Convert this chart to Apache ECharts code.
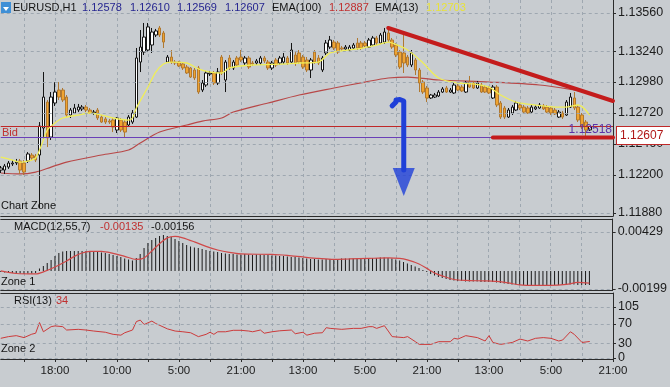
<!DOCTYPE html>
<html><head><meta charset="utf-8">
<script src="https://cdn.jsdelivr.net/npm/echarts@6/dist/echarts.min.js"></script>
<style>html,body{margin:0;padding:0;background:#c8ccd0;overflow:hidden}#c{width:670px;height:387px}</style>
</head><body><div id="c"></div><script>
// ---------- DATA ----------
const barCount = 159; // category slots (bars 0..152 carry data)
const tickLabels = ['18:00','10:00','5:00','21:00','13:00','5:00','21:00','13:00','5:00','21:00'];
const tickStart = 14, tickStep = 16;

const opens = [1.12241,1.12241,1.12266,1.12292,1.12300,1.12317,1.12300,1.12317,1.12367,1.12359,
1.12367,1.12594,1.12812,1.12518,1.12804,1.12913,1.12913,1.12854,1.12703,1.12720,
1.12745,1.12754,1.12770,1.12745,1.12720,1.12745,1.12686,1.12670,1.12653,1.12661,
1.12577,1.12661,1.12644,1.12619,1.12644,1.12686,1.13148,1.13232,1.13249,1.13291,
1.13375,1.13434,1.13392,1.13148,1.13190,1.13148,1.13148,1.13132,1.13106,1.13098,
1.13081,1.13098,1.12913,1.12955,1.13048,1.13056,1.12972,1.13190,1.12997,1.13182,
1.13098,1.13182,1.13190,1.13140,1.13182,1.13140,1.13140,1.13140,1.13182,1.13148,
1.13098,1.13165,1.13140,1.13148,1.13182,1.13148,1.13207,1.13224,1.13190,1.13165,
1.13081,1.13232,1.13182,1.13081,1.13224,1.13274,1.13316,1.13308,1.13266,1.13258,
1.13249,1.13266,1.13308,1.13308,1.13308,1.13274,1.13291,1.13350,1.13308,1.13316,
1.13392,1.13333,1.13291,1.13232,1.13224,1.13190,1.13123,1.13165,1.13081,1.12980,
1.12930,1.12846,1.12854,1.12863,1.12896,1.12930,1.12896,1.12888,1.12947,1.12938,
1.12896,1.12980,1.12972,1.12930,1.12955,1.12938,1.12930,1.12846,1.12938,1.12804,
1.12762,1.12686,1.12720,1.12745,1.12787,1.12770,1.12762,1.12728,1.12754,1.12762,
1.12779,1.12770,1.12762,1.12745,1.12686,1.12720,1.12703,1.12770,1.12846,1.12770,
1.12703,1.12644,1.12578];
const closes = [1.12258,1.12275,1.12300,1.12300,1.12308,1.12241,1.12224,1.12376,1.12342,1.12325,
1.12611,1.12854,1.12510,1.12854,1.12896,1.12854,1.12829,1.12703,1.12745,1.12762,
1.12770,1.12770,1.12745,1.12720,1.12728,1.12678,1.12644,1.12644,1.12644,1.12602,
1.12678,1.12577,1.12560,1.12686,1.12720,1.13182,1.13274,1.13358,1.13443,1.13400,
1.13409,1.13375,1.13316,1.13190,1.13148,1.13140,1.13115,1.13098,1.13056,1.13022,
1.13014,1.12896,1.12972,1.13056,1.13056,1.12972,1.13064,1.13056,1.13148,1.13098,
1.13148,1.13123,1.13165,1.13182,1.13106,1.13132,1.13157,1.13182,1.13157,1.13098,
1.13140,1.13123,1.13182,1.13190,1.13140,1.13249,1.13140,1.13148,1.13106,1.13081,
1.13165,1.13148,1.13140,1.13182,1.13308,1.13333,1.13266,1.13232,1.13258,1.13274,
1.13274,1.13291,1.13266,1.13266,1.13283,1.13333,1.13350,1.13308,1.13375,1.13400,
1.13333,1.13274,1.13207,1.13106,1.13140,1.13123,1.13224,1.13081,1.12972,1.12896,
1.12846,1.12871,1.12871,1.12896,1.12922,1.12896,1.12913,1.12955,1.12913,1.12905,
1.12972,1.12938,1.12930,1.12972,1.12896,1.12896,1.12888,1.12938,1.12787,1.12686,
1.12686,1.12745,1.12770,1.12804,1.12762,1.12728,1.12720,1.12770,1.12770,1.12787,
1.12754,1.12728,1.12720,1.12712,1.12728,1.12686,1.12812,1.12854,1.12762,1.12661,
1.12602,1.12577,1.12607];
const lows = [1.12216,1.12208,1.12250,1.12275,1.12283,1.12208,1.12199,1.12300,1.12325,1.12308,
1.11922,1.12493,1.12434,1.12493,1.12779,1.12829,1.12812,1.12686,1.12678,1.12712,
1.12728,1.12737,1.12728,1.12712,1.12703,1.12661,1.12636,1.12628,1.12628,1.12560,
1.12552,1.12560,1.12510,1.12602,1.12628,1.12678,1.13064,1.13207,1.13232,1.13224,
1.13358,1.13358,1.13266,1.13140,1.13132,1.13123,1.13106,1.13081,1.13048,1.13014,
1.12997,1.12880,1.12896,1.12938,1.13031,1.12955,1.12955,1.13039,1.12896,1.13081,
1.13081,1.13106,1.13148,1.13123,1.13090,1.13115,1.13123,1.13123,1.13140,1.13081,
1.13081,1.13106,1.13123,1.13132,1.13123,1.13132,1.13115,1.13132,1.13090,1.13064,
1.13014,1.13132,1.13123,1.13064,1.13207,1.13258,1.13249,1.13216,1.13241,1.13241,
1.13241,1.13249,1.13249,1.13249,1.13266,1.13266,1.13283,1.13291,1.13300,1.13300,
1.13316,1.13258,1.13190,1.13090,1.13056,1.13106,1.13106,1.13039,1.12896,1.12880,
1.12812,1.12838,1.12846,1.12854,1.12888,1.12888,1.12888,1.12880,1.12905,1.12896,
1.12888,1.12930,1.12922,1.12922,1.12888,1.12888,1.12880,1.12838,1.12770,1.12670,
1.12670,1.12678,1.12703,1.12737,1.12745,1.12720,1.12712,1.12720,1.12745,1.12754,
1.12745,1.12720,1.12703,1.12703,1.12678,1.12670,1.12695,1.12762,1.12745,1.12644,
1.12586,1.12518,1.12569];
const highs = [1.12275,1.12292,1.12317,1.12325,1.12334,1.12334,1.12325,1.12392,1.12384,1.12376,
1.12644,1.13064,1.12829,1.12896,1.12980,1.12980,1.12930,1.12871,1.12762,1.12796,
1.12796,1.12787,1.12787,1.12762,1.12745,1.12762,1.12703,1.12686,1.12670,1.12678,
1.12686,1.12678,1.12661,1.12703,1.12745,1.13266,1.13417,1.13476,1.13476,1.13434,
1.13426,1.13451,1.13409,1.13207,1.13249,1.13165,1.13157,1.13148,1.13123,1.13106,
1.13098,1.13115,1.12997,1.13073,1.13073,1.13073,1.13098,1.13207,1.13165,1.13207,
1.13165,1.13199,1.13249,1.13199,1.13199,1.13157,1.13174,1.13199,1.13199,1.13165,
1.13157,1.13182,1.13199,1.13224,1.13199,1.13308,1.13232,1.13249,1.13207,1.13190,
1.13182,1.13249,1.13207,1.13199,1.13333,1.13367,1.13333,1.13325,1.13283,1.13291,
1.13291,1.13308,1.13350,1.13325,1.13325,1.13350,1.13367,1.13367,1.13392,1.13434,
1.13417,1.13350,1.13308,1.13249,1.13392,1.13207,1.13249,1.13182,1.13098,1.12997,
1.12947,1.12880,1.12888,1.12913,1.12938,1.12947,1.12930,1.12972,1.12964,1.12955,
1.12989,1.13031,1.12989,1.12989,1.12972,1.12955,1.12947,1.12955,1.12955,1.12821,
1.12779,1.12762,1.12787,1.12821,1.12804,1.12787,1.12779,1.12787,1.12787,1.12804,
1.12796,1.12787,1.12779,1.12762,1.12745,1.12737,1.12829,1.12888,1.12896,1.12787,
1.12720,1.12661,1.12610];

const ema13Idx = [0,3,5,8,9,10,11,12,14,16,20,23,26,29,33,34,35,38,40,42,44,48,51,54,57,59,65,74,77,82,85,92,97,100,101,105,109,113,118,122,126,129,133,138,144,146,149,152];
const ema13Val = [1.12350,1.12325,1.12308,1.12325,1.12342,1.12409,1.12493,1.12577,1.12636,1.12678,1.12703,1.12720,1.12703,1.12678,1.12661,1.12678,1.12762,1.12938,1.13064,1.13132,1.13148,1.13140,1.13090,1.13064,1.13056,1.13098,1.13123,1.13132,1.13140,1.13148,1.13224,1.13258,1.13291,1.13316,1.13308,1.13249,1.13140,1.13014,1.12972,1.12964,1.12938,1.12871,1.12812,1.12787,1.12770,1.12770,1.12787,1.12703];
const ema100Idx = [0,5,9,13,17,26,33,36,41,48,52,57,60,69,77,86,94,100,105,113,126,139,148,152];
const ema100Val = [1.12216,1.12208,1.12224,1.12266,1.12308,1.12367,1.12409,1.12468,1.12560,1.12619,1.12652,1.12678,1.12728,1.12804,1.12871,1.12930,1.12980,1.13014,1.13022,1.12997,1.12980,1.12955,1.12913,1.12887];

const bidPrice = 1.12607;
const markPrice = 1.12518;
const priceTicks = [1.13560,1.13240,1.12980,1.12720,1.12460,1.12200,1.11880];

// drawn annotations (bar index, price)
const trendIdx = [100,158], trendVal = [1.13434,1.12821];
const supportIdx = [127,158], supportVal = [1.12514,1.12514];
const arrowIdx = [101.1,101.6,102.3,103.2,104.0,104.4,104.4];
const arrowVal = [1.12780,1.12812,1.12829,1.12833,1.12820,1.12790,1.12241];
const arrowHead = [104.4,1.12140];

const macdHist = [-0.00011,-0.00017,-0.00022,-0.00022,-0.00028,-0.00028,-0.00033,-0.00028,-0.00028,-0.00022,
0.00028,0.00055,0.00088,0.00121,0.00165,0.00198,0.00215,0.00220,0.00220,0.00220,
0.00220,0.00220,0.00220,0.00220,0.00220,0.00215,0.00204,0.00198,0.00187,0.00176,
0.00165,0.00154,0.00138,0.00127,0.00116,0.00143,0.00187,0.00253,0.00309,0.00342,
0.00364,0.00386,0.00397,0.00386,0.00375,0.00353,0.00331,0.00309,0.00287,0.00270,
0.00259,0.00253,0.00242,0.00231,0.00220,0.00215,0.00209,0.00198,0.00193,0.00187,
0.00187,0.00182,0.00182,0.00187,0.00182,0.00176,0.00182,0.00182,0.00176,0.00176,
0.00171,0.00171,0.00165,0.00165,0.00160,0.00154,0.00154,0.00149,0.00143,0.00138,
0.00132,0.00132,0.00127,0.00127,0.00132,0.00132,0.00132,0.00132,0.00138,0.00138,
0.00138,0.00138,0.00138,0.00143,0.00143,0.00143,0.00143,0.00143,0.00149,0.00149,
0.00143,0.00138,0.00127,0.00116,0.00099,0.00083,0.00066,0.00050,0.00033,0.00011,
-0.00011,-0.00033,-0.00050,-0.00066,-0.00077,-0.00088,-0.00099,-0.00105,-0.00110,-0.00110,
-0.00116,-0.00116,-0.00116,-0.00116,-0.00121,-0.00121,-0.00121,-0.00121,-0.00127,-0.00132,
-0.00138,-0.00143,-0.00149,-0.00149,-0.00154,-0.00154,-0.00154,-0.00154,-0.00154,-0.00154,
-0.00154,-0.00154,-0.00154,-0.00154,-0.00154,-0.00154,-0.00154,-0.00149,-0.00149,-0.00154,
-0.00154,-0.00154,-0.00156];
const signalIdx = [0,4,9,11,14,17,19,21,23,26,29,32,35,37,39,41,43,45,47,50,53,56,59,62,70,74,78,82,86,90,95,100,103,105,108,110,112,114,117,120,125,128,131,134,138,142,146,149,152];
const signalVal = [0,-0.00028,-0.00033,-0.00011,0.00044,0.00110,0.00160,0.00198,0.00215,0.00215,0.00193,0.00160,0.00127,0.00143,0.00220,0.00300,0.00364,0.00380,0.00364,0.00320,0.00270,0.00231,0.00204,0.00187,0.00182,0.00171,0.00154,0.00138,0.00127,0.00132,0.00138,0.00143,0.00138,0.00121,0.00077,0.00028,-0.00022,-0.00055,-0.00094,-0.00105,-0.00110,-0.00116,-0.00132,-0.00154,-0.00160,-0.00160,-0.00149,-0.00127,-0.00135];
const macdTicks = [0.00429,-0.00199];

const rsiIdx = [0,2,4,6,8,9,10,11,13,14,16,17,20,22,24,27,29,31,32,34,35,36,37,39,40,43,45,47,49,51,53,54,55,56,58,60,62,64,65,67,68,70,72,75,76,78,79,81,83,84,85,88,91,93,95,96,97,99,100,101,104,105,107,108,111,113,116,117,118,120,123,125,126,127,129,132,134,136,138,140,142,144,145,147,148,150,152];
const rsiVal = [40.5,44,46,42,49,51,73,54,64.5,66,64.5,57.6,59,57.6,55.5,53,48.7,47,52,57.6,75,78,69,76,71,60,55.5,54,52,44,48.7,53,48.7,54,54,57,57,55.5,54,57.6,51,54,56,57.6,50,53,47,51,52,62.4,61,59,61,61,64.5,64.5,61,66.5,55.5,44,42,44,33.6,28,28,33.6,33.6,40.5,39,46,42,35,46,32,28,32,39,35,40.5,42,40.5,35,37,54,48.7,32,34];
const rsiTicks = [105,70,30,0];

// ---------- CHART ----------
const cats = Array.from({length: barCount}, (_, i) => String(i));
const candles = opens.map((o, i) => [o, closes[i], lows[i], highs[i]]);
const pairs = (a, b) => a.map((x, i) => [x, b[i]]);
const FONT = '"Liberation Sans", Arial, sans-serif';
const gridCol = '#9ea7b0';
const axisCol = '#2b2b2b';
const vSplit = {show: true, interval: (i) => i % 8 === 6, lineStyle: {color: gridCol, type: [3, 3], width: 1}};

function xAx(grid, pos, extra) {
  return Object.assign({
    type: 'category', gridIndex: grid, position: pos, data: cats, boundaryGap: false,
    axisLine: {show: true, onZero: false, lineStyle: {color: axisCol, width: 1}},
    axisTick: {show: false}, axisLabel: {show: false}, splitLine: {show: false}
  }, extra || {});
}
function yAx(grid, min, max, ticks, fmt) {
  return {
    type: 'value', gridIndex: grid, position: 'right', min: min, max: max,
    axisLine: {show: true, onZero: false, lineStyle: {color: axisCol}},
    axisTick: {show: true, length: 3, customValues: ticks, lineStyle: {color: axisCol}},
    axisLabel: {show: true, customValues: ticks, formatter: fmt, color: '#1c1c1c', fontSize: 12.5, margin: 5, fontFamily: FONT},
    splitLine: {show: false}
  };
}
function hGrid(vals) {
  return {symbol: 'none', silent: true, animation: false, precision: 6, label: {show: false},
    lineStyle: {color: gridCol, type: [3, 3], width: 1},
    data: vals.map(v => ({yAxis: v}))};
}
function txt(x, y, s, fill, size) {
  return {type: 'text', x: x, y: y, silent: true, z: 100,
    style: {text: s, fill: fill, font: (size || 11) + 'px ' + FONT}};
}

const chart = echarts.init(document.getElementById('c'), null, {renderer: 'canvas'});
chart.setOption({
  backgroundColor: '#c8ccd0',
  animation: false,
  grid: [
    {left: 0.75, right: 57, top: 0, height: 216},
    {left: 0.75, right: 57, top: 219, height: 71},
    {left: 0.75, right: 57, top: 293, height: 66}
  ],
  xAxis: [
    xAx(0, 'bottom', {splitLine: vSplit}),
    xAx(1, 'top'),
    xAx(1, 'bottom', {splitLine: vSplit}),
    xAx(2, 'top'),
    xAx(2, 'bottom', {
      splitLine: vSplit,
      axisTick: {show: true, interval: (i) => i % 8 === 6, length: 3, lineStyle: {color: axisCol}},
      axisLabel: {show: true, interval: (i) => i >= tickStart && (i - tickStart) % tickStep === 0,
        formatter: (v) => tickLabels[(Number(v) - tickStart) / tickStep] || '',
        color: '#1c1c1c', fontSize: 11.5, margin: 6, fontFamily: FONT}
    })
  ],
  yAxis: [
    yAx(0, 1.11855, 1.13669, priceTicks, v => v.toFixed(5)),
    yAx(1, -0.0021, 0.00572, macdTicks, v => v.toFixed(5)),
    yAx(2, -2.06, 133.8, rsiTicks, v => String(Math.round(v)))
  ],
  series: [
    {type: 'line', xAxisIndex: 0, yAxisIndex: 0, data: pairs(ema100Idx, ema100Val), showSymbol: false, smooth: 0.3,
      lineStyle: {color: '#b84848', width: 1.2}, z: 2, markLine: hGrid(priceTicks)},
    {type: 'candlestick', xAxisIndex: 0, yAxisIndex: 0, data: candles, barWidth: 3, z: 3,
      itemStyle: {color: '#ffffff', color0: '#f0a430', borderColor: '#141414', borderColor0: '#b07830', borderWidth: 1}},
    {type: 'line', xAxisIndex: 0, yAxisIndex: 0, data: pairs(ema13Idx, ema13Val), showSymbol: false, smooth: 0.3,
      lineStyle: {color: '#f0ee58', width: 1.3}, z: 4,
      markLine: {symbol: 'none', silent: true, animation: false, precision: 6, data: [
        {yAxis: markPrice, lineStyle: {color: '#6a40b8', width: 1, type: 'solid'},
          label: {show: true, position: 'insideEndTop', formatter: '1.12518', color: '#5a34a8', fontSize: 12, fontFamily: FONT, distance: 1}},
        {yAxis: bidPrice, lineStyle: {color: '#c02828', width: 1, type: 'solid'},
          label: {show: true, position: 'end', formatter: '1.12607', color: '#b01818', fontSize: 12, fontFamily: FONT,
            backgroundColor: '#ffffff', borderColor: '#c02828', borderWidth: 1, padding: [3, 8, 2, 3], distance: 4, offset: [0, 9]}}
      ]}},
    {type: 'line', xAxisIndex: 0, yAxisIndex: 0, data: pairs(trendIdx, trendVal), showSymbol: false,
      lineStyle: {color: '#c41c1c', width: 4, cap: 'round'}, z: 6},
    {type: 'line', xAxisIndex: 0, yAxisIndex: 0, data: pairs(supportIdx, supportVal), showSymbol: false,
      lineStyle: {color: '#c41c1c', width: 4, cap: 'round'}, z: 6},
    {type: 'line', xAxisIndex: 0, yAxisIndex: 0, data: pairs(arrowIdx, arrowVal), showSymbol: false,
      lineStyle: {color: '#1f40d8', width: 5, cap: 'round', join: 'round'}, z: 7},
    {type: 'scatter', xAxisIndex: 0, yAxisIndex: 0, data: [arrowHead], symbol: 'triangle', symbolRotate: 180,
      symbolSize: [22, 28], itemStyle: {color: '#1f40d8'}, z: 7},
    {type: 'bar', xAxisIndex: 2, yAxisIndex: 1, data: macdHist, barWidth: 1, itemStyle: {color: '#1a1a1a'},
      markLine: hGrid(macdTicks)},
    {type: 'line', xAxisIndex: 2, yAxisIndex: 1, data: pairs(signalIdx, signalVal), showSymbol: false, smooth: 0.3,
      lineStyle: {color: '#d04848', width: 1.2}},
    {type: 'line', xAxisIndex: 4, yAxisIndex: 2, data: pairs(rsiIdx, rsiVal), showSymbol: false,
      lineStyle: {color: '#cc3a3a', width: 1}, markLine: hGrid(rsiTicks)}
  ],
  graphic: [
    {type: 'rect', shape: {x: 1, y: 2, width: 10, height: 11}, style: {fill: '#3f8fd6'}, silent: true},
    {type: 'polygon', shape: {points: [[3, 7], [9, 7], [6, 11]]}, style: {fill: '#ffffff'}, silent: true},
    txt(13, 2, 'EURUSD,H1', '#141414'),
    txt(82, 2, '1.12578', '#262690'),
    txt(130, 2, '1.12610', '#262690'),
    txt(177, 2, '1.12569', '#262690'),
    txt(225, 2, '1.12607', '#262690'),
    txt(272, 2, 'EMA(100)', '#141414'),
    txt(329, 2, '1.12887', '#c03030'),
    txt(375, 2, 'EMA(13)', '#141414'),
    txt(426, 2, '1.12703', '#e8e23a'),
    txt(2, 127, 'Bid', '#c03030'),
    txt(1, 200, 'Chart Zone', '#141414'),
    txt(14, 221, 'MACD(12,55,7)', '#141414'),
    txt(100, 221, '-0.00135', '#c03030'),
    txt(151, 221, '-0.00156', '#141414'),
    txt(1, 276, 'Zone 1', '#141414'),
    txt(14, 295, 'RSI(13)', '#141414'),
    txt(56, 295, '34', '#c03030'),
    txt(1, 343, 'Zone 2', '#141414')
  ]
});
</script></body></html>
